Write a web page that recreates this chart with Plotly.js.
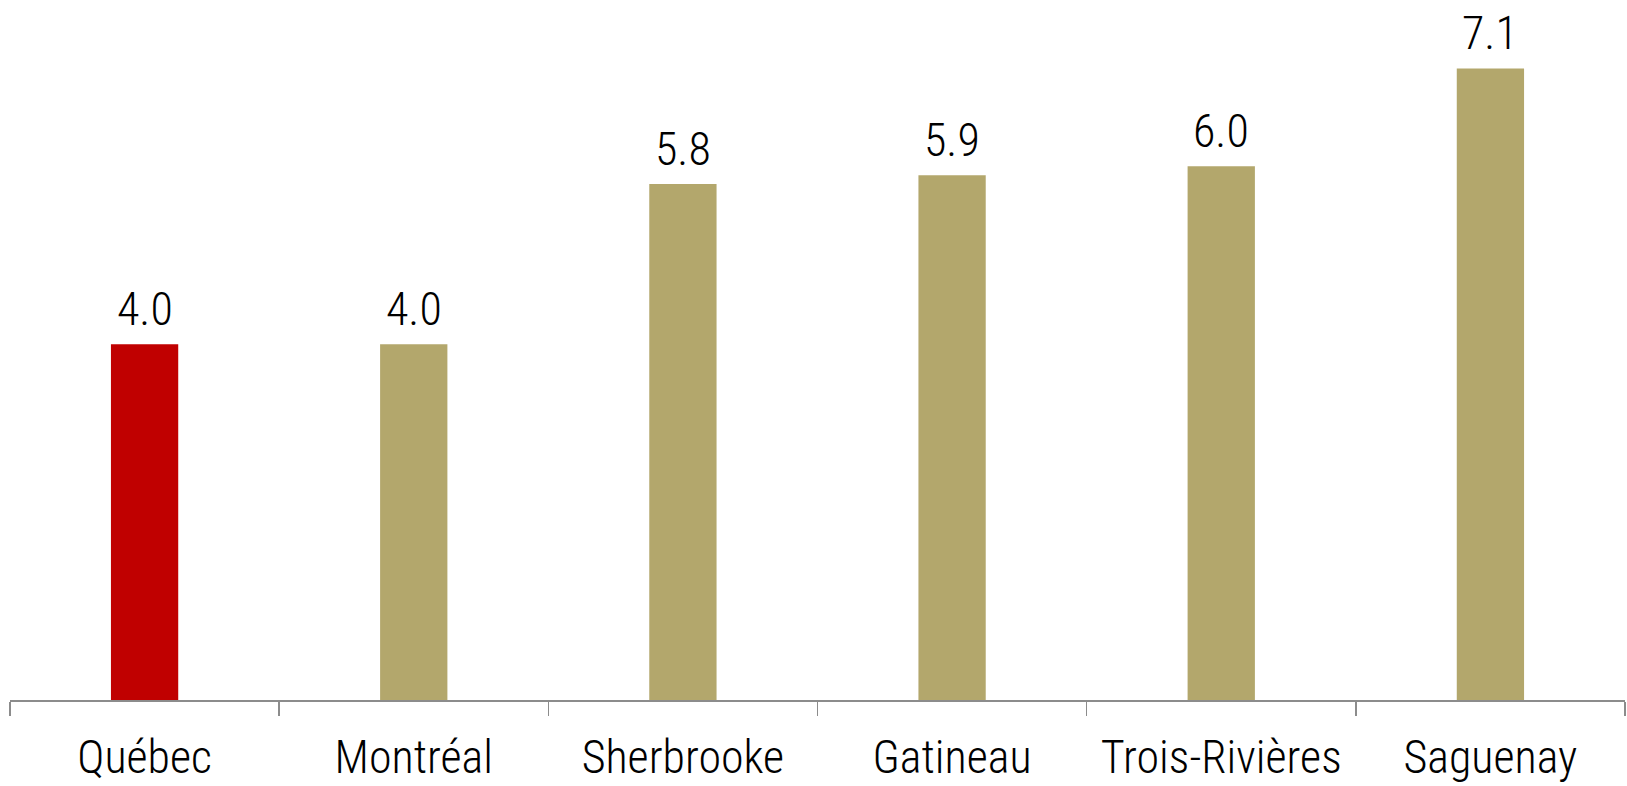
<!DOCTYPE html>
<html>
<head>
<meta charset="utf-8">
<script src="https://cdn.plot.ly/plotly-3.0.1.min.js"></script>
<style>html,body{margin:0;padding:0;background:#fff;}#chart{width:1627px;height:786px;}</style>
</head>
<body>
<div id="chart"></div>
<script>
const categories = ["Québec", "Montréal", "Sherbrooke", "Gatineau", "Trois-Rivières", "Saguenay"];
const values = [4.0, 4.0, 5.8, 5.9, 6.0, 7.1];
const barColors = ["#C00000", "#B3A76C", "#B3A76C", "#B3A76C", "#B3A76C", "#B3A76C"];
const valueLabels = values.map(v => v.toFixed(1));

const FONT = "'Roboto Condensed', 'Liberation Sans', sans-serif";

const trace = {
  type: "bar",
  x: categories,
  y: values,
  marker: {color: barColors, line: {width: 0}},
  width: 0.25,
  hoverinfo: "skip"
};

const annotations = categories.map((c, i) => ({
  x: c, y: values[i], xref: "x", yref: "y",
  text: valueLabels[i], showarrow: false,
  yanchor: "bottom", yshift: 6,
  font: {family: FONT, size: 46, color: "#000", weight: 300}
}));

const layout = {
  width: 1627, height: 786,
  margin: {l: 10, r: 2, t: 15, b: 86},
  paper_bgcolor: "#fff", plot_bgcolor: "#fff",
  showlegend: false,
  bargap: 0.75,
  xaxis: {
    type: "category",
    range: [-0.5, 5.5],
    showline: true, linecolor: "#8c8c8c", linewidth: 1.5,
    ticks: "outside", tickson: "boundaries", ticklen: 14, tickcolor: "#8c8c8c", tickwidth: 1.5,
    ticklabelstandoff: 16,
    tickfont: {family: FONT, size: 46, color: "#000", weight: 300},
    showgrid: false, zeroline: false, fixedrange: true
  },
  yaxis: {
    range: [0, 7.7],
    visible: false, showgrid: false, zeroline: false, fixedrange: true
  },
  annotations: annotations
};

Plotly.newPlot("chart", [trace], layout, {displayModeBar: false, staticPlot: true});
</script>
</body>
</html>
